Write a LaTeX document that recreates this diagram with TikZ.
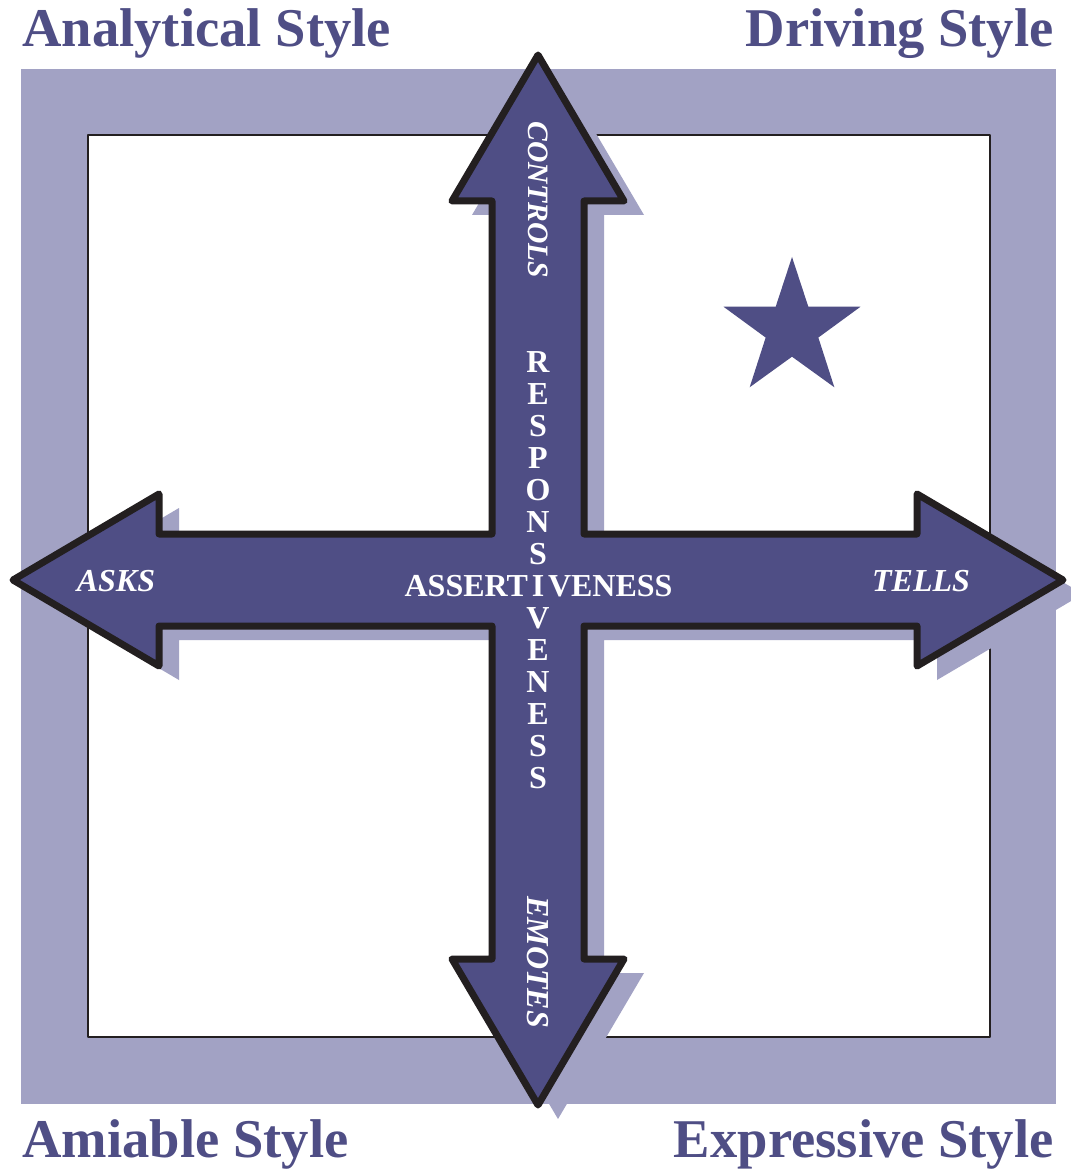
\documentclass[tikz,border=0pt]{standalone}
\usepackage{fontspec}
\setmainfont{Liberation Serif}
\usetikzlibrary{positioning, shapes.geometric}

\definecolor{stylenavy}{HTML}{4F4E85}
\definecolor{stylelavender}{HTML}{A2A2C4}
\definecolor{arrowedge}{HTML}{231F20}

\tikzset{
    corner/.style={inner sep=0pt, text=stylenavy, font=\fontsize{27.3}{30}\selectfont\bfseries},
    axislabel/.style={inner sep=0pt, text=white, font=\fontsize{16}{18}\selectfont\bfseries\itshape},
    letter/.style={inner sep=0pt, text=white, font=\fontsize{16}{18}\selectfont\bfseries},
    crossshape/.pic={
        \path[pic actions] (0,-525) -- (86,-379) -- (46,-379) -- (46,-46) -- (379,-46)
            -- (379,-86) -- (525,0) -- (379,86) -- (379,46) -- (46,46) -- (46,379)
            -- (86,379) -- (0,525) -- (-86,379) -- (-46,379) -- (-46,46) -- (-379,46)
            -- (-379,86) -- (-525,0) -- (-379,-86) -- (-379,-46) -- (-46,-46)
            -- (-46,-379) -- (-86,-379) -- cycle;
    }
}

\begin{document}
\begin{tikzpicture}[x=0.5pt, y=-0.5pt, line join=round]
    \useasboundingbox (0,0) rectangle (1070,1171);

    % Frame
    \fill[stylelavender] (21,69) rectangle (1056,1104);
    \filldraw[fill=white, draw=arrowedge, line width=1pt] (88,135) rectangle (990,1037);

    % Cross of arrows with its shadow
    \pic[fill=stylelavender] at (558,594) {crossshape};
    \pic[fill=stylenavy, draw=arrowedge, line width=3.5pt] at (538,580) {crossshape};

    % Star
    \node[star, star points=5, star point ratio=2.6, minimum size=72pt,
          inner sep=0pt, fill=stylenavy] (star) at (792,329) {};

    % Corner titles
    \node[corner, anchor=base west] (analytical) at (22,47) {Analytical Style};
    \node[corner, anchor=base east] (driving) at (1054,47) {Driving Style};
    \node[corner, anchor=base west] (amiable) at (22,1157) {Amiable Style};
    \node[corner, anchor=base east] (expressive) at (1054,1157) {Expressive Style};

    % Arrow labels
    \node[axislabel] (asks) at (116,581) {ASKS};
    \node[axislabel] (tells) at (921,581) {TELLS};
    \node[axislabel, rotate=-90, font=\fontsize{14.8}{18}\selectfont\bfseries\itshape] (controls) at (538,200) {CONTROLS};
    \node[axislabel, rotate=-90] (emotes) at (538,962) {EMOTES};

    % Responsiveness down, assertiveness across
    \foreach \ch [count=\i from 0] in {R,E,S,P,O,N,S,I,V,E,N,E,S,S}
        \node[letter, anchor=base] (resp-\i) at (538,372+32*\i) {\ch};
    \node[letter, base left=1.5pt of resp-7] (assert) {ASSERT};
    \node[letter, base right=1.5pt of resp-7] (veness) {VENESS};
\end{tikzpicture}
\end{document}
